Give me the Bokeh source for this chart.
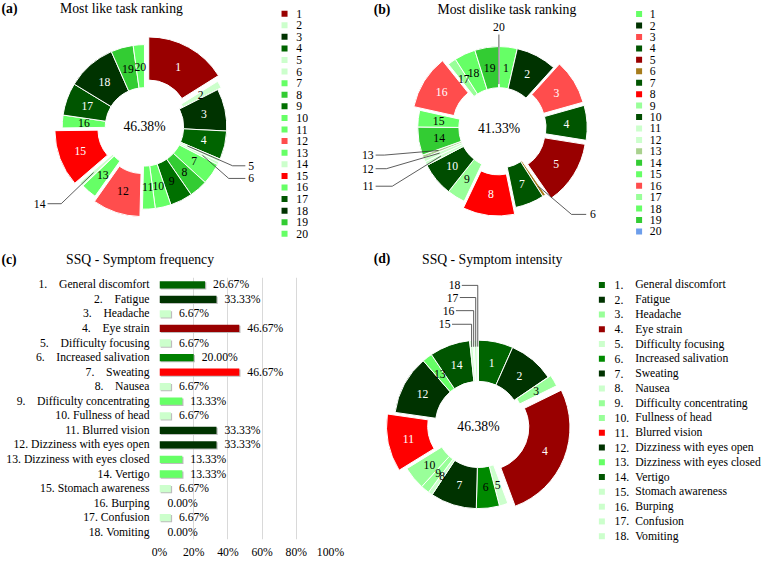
import numpy as np
from bokeh.plotting import figure
from bokeh.models import Range1d, FactorRange, FixedTicker, PrintfTickFormatter, ColumnDataSource
from bokeh.layouts import row, column
from bokeh.core.properties import value
from bokeh.transform import dodge
from bokeh.embed import file_html
from bokeh.resources import INLINE

FAMILY = "Liberation Serif, DejaVu Serif, serif"
FONT = value(FAMILY)
FS = "11.7px"
FT = "13.7px"

# ---------------- palette ----------------
DR, R, LR = "#990000", "#ff0000", "#ff4d4d"
G0, G1, G1b, G2 = "#003300", "#006400", "#005500", "#008a00"
G3, G4, G5, G6 = "#33cc33", "#66ff66", "#99ff99", "#ccffcc"

# ---------------- (a) most like ----------------
like_tasks = [str(i) for i in range(1, 21)]
like_share = [16.1, 1.4, 8.3, 5.6, 0.6, 0.6, 4.2, 3.6, 4.4, 3.1,
              2.5, 9.4, 3.1, 0.8, 11.1, 2.5, 6.4, 9.7, 4.4, 2.2]
like_colors = [DR, G6, G0, G1, G6, G6, G4, G3, "#007000", G4,
               G4, LR, G4, G6, R, G4, G1b, G0, G3, G4]
like_center = "46.38%"

# ---------------- (b) most dislike ----------------
dislike_tasks = [str(i) for i in range(1, 21)]
dislike_share = [3.6, 8.1, 8.9, 6.9, 12.8, 0.6, 5.8, 10.3, 3.6, 6.7,
                 0.8, 0.8, 0.6, 5.6, 3.3, 10.8, 1.7, 4.2, 4.7, 0.1]
dislike_colors = [G4, G0, LR, G1b, DR, "#a67c1c", G1b, R, G5, "#004d00",
                  G6, G6, "#a9d18e", G3, G4, LR, G5, G4, G3, "#6d9eeb"]
dislike_center = "41.33%"

# ---------------- (c) / (d) SSQ ----------------
symptoms = ["General discomfort", "Fatigue", "Headache", "Eye strain",
            "Difficulty focusing", "Increased salivation", "Sweating", "Nausea",
            "Difficulty concentrating", "Fullness of head", "Blurred vision",
            "Dizziness with eyes open", "Dizziness with eyes closed", "Vertigo",
            "Stomach awareness", "Burping", "Confusion", "Vomiting"]
freq_pct = [26.67, 33.33, 6.67, 46.67, 6.67, 20.00, 46.67, 6.67, 13.33,
            6.67, 33.33, 33.33, 13.33, 13.33, 6.67, 0.00, 6.67, 0.00]
freq_colors = [G1, G0, G6, DR, G6, "#008000", R, G6, G4,
               G6, G0, G0, G4, G4, G6, G6, G6, G6]
freq_ticks = [0, 20, 40, 60, 80, 100]

intensity_share = [6.67, 8.89, 2.22, 26.67, 1.67, 4.44, 8.89, 0.83, 1.67,
                   4.44, 11.11, 11.39, 1.94, 7.78, 0.56, 0.28, 0.56, 0.28]
intensity_colors = [G1, G0, G5, DR, G6, G2, G0, G6, G5,
                    G5, R, G0, G4, G1b, G6, G6, G6, G6]
intensity_center = "46.38%"

# ---------------- layout helpers ----------------
SX = 762 / 778
SY = 561 / 577
LW, RW = 357, 405
TH, CH = 274, 287
XS = LW / SX
Y1 = TH / SY


def panel(x0, x1, y0, y1, w, h):
    p = figure(width=w, height=h, x_range=Range1d(x0, x1), y_range=Range1d(0, y1 - y0),
               output_backend="svg", toolbar_location=None,
               x_axis_location=None, y_axis_location=None, min_border=0)
    p.outline_line_color = None
    p.grid.visible = False
    return p, (lambda ry: y1 - ry)


def txt(p, x, y, s, size=FS, align="left", color="black", style="normal"):
    p.text(x=[x], y=[y], text=[s], text_font=FONT, text_font_size=size,
           text_align=align, text_baseline="middle", text_color=color,
           text_font_style=style)


def donut(p, fy, cx, cy, shares, colors, r_in, r_out, explode, white, hide):
    v = np.array(shares, float)
    frac = v / v.sum() * 2 * np.pi
    end = np.cumsum(frac)
    start = end - frac
    mid = (start + end) / 2
    off = np.array([explode.get(i + 1, 0) for i in range(len(v))], float)
    X = cx + off * np.sin(mid)
    Y = fy(cy) + off * np.cos(mid)
    p.annular_wedge(x=X, y=Y, inner_radius=r_in, outer_radius=r_out,
                    start_angle=np.pi / 2 - start, end_angle=np.pi / 2 - end,
                    direction="clock", fill_color=colors, line_color="white",
                    line_width=1)
    rm = (r_in + r_out) / 2
    idx = [i for i in range(len(v)) if (i + 1) not in hide]
    p.text(x=[X[i] + rm * np.sin(mid[i]) for i in idx],
           y=[Y[i] + rm * np.cos(mid[i]) for i in idx],
           text=[str(i + 1) for i in idx],
           text_color=["white" if (i + 1) in white else "black" for i in idx],
           text_font=FONT, text_font_size=FS, text_align="center",
           text_baseline="middle")

    def point(k, r):
        i = k - 1
        return X[i] + r * np.sin(mid[i]), Y[i] + r * np.cos(mid[i])
    return point


def legend(p, fy, x_sq, x_txt, y_first, y_last, colors, labels):
    n = len(labels)
    ys = [fy(y_first + (y_last - y_first) * i / (n - 1)) for i in range(n)]
    p.scatter(x=[x_sq] * n, y=ys, marker="square", size=6, fill_color=colors,
              line_color=None)
    p.text(x=[x_txt] * n, y=ys, text=labels, text_font=FONT, text_font_size=FS,
           text_baseline="middle", text_align="left")
    return ys


# ---------------- panel (a) (+ title of c) ----------------
fa, fya = panel(0, XS, 0, Y1, LW, TH)
txt(fa, 1, fya(8), "(a)", FT, style="bold")
txt(fa, 123.5, fya(8), "Most like task ranking", FT, align="center")
pa = donut(fa, fya, 147, 130, like_share, like_colors, 40, 84,
           {1: 9, 2: 4, 12: 8, 13: 3, 14: 3, 15: 8}, {1, 3, 4, 15, 17, 18}, {5, 6, 14})
txt(fa, 147, fya(130), like_center, FT, align="center")
lines_x, lines_y = [], []
for k, r, elbow, end in [(5, 48, (237, 170), (250, 170)),
                         (6, 66, (233, 183), (250, 183)),
                         (14, 67, (62, 209), (48, 209))]:
    sx, sy = pa(k, r)
    lines_x.append([sx, elbow[0], end[0]])
    lines_y.append([sy, fya(elbow[1]), fya(end[1])])
fa.multi_line(xs=lines_x, ys=lines_y, line_color="#333333", line_width=0.8)
txt(fa, 253, fya(170), "5")
txt(fa, 253, fya(183), "6")
txt(fa, 46, fya(209), "14", align="right")
legend(fa, fya, 290, 302, 13.5, 240, like_colors, like_tasks)
txt(fa, 1, fya(266), "(c)", FT, style="bold")
txt(fa, 142.5, fya(266), "SSQ - Symptom frequency", FT, align="center")

# ---------------- panel (b) (+ title of d) ----------------
fb, fyb = panel(XS, 778, 0, Y1, RW, TH)
txt(fb, 381, fyb(9), "(b)", FT, style="bold")
txt(fb, 517, fyb(9), "Most dislike task ranking", FT, align="center")
pb = donut(fb, fyb, 509, 131, dislike_share, dislike_colors, 41, 83,
           {3: 7, 4: 7, 5: 7, 8: 7, 16: 7}, {2, 3, 4, 5, 7, 8, 10, 16},
           {6, 11, 12, 13, 20})
txt(fb, 509, fyb(132), dislike_center, FT, align="center")
lx, ly = [], []
sx, sy = pb(20, 45)
lx.append([sx, sx]); ly.append([sy, fyb(35)])
txt(fb, sx, fyb(27), "20", align="center")
for k, yy, ex in [(13, 159, 392), (12, 173, 394), (11, 191, 400)]:
    sx, sy = pb(k, 66)
    lx.append([sx, ex, 383]); ly.append([sy, fyb(yy), fyb(yy)])
    txt(fb, 381, fyb(yy), str(k), align="right")
sx, sy = pb(6, 72)
lx.append([sx, 583, 598]); ly.append([sy, fyb(220), fyb(220)])
txt(fb, 602, fyb(220), "6")
fb.multi_line(xs=lx, ys=ly, line_color="#333333", line_width=0.8)
legend(fb, fyb, 652, 663, 14, 237.5, dislike_colors, dislike_tasks)
txt(fb, 381, fyb(265), "(d)", FT, style="bold")
txt(fb, 502, fyb(266), "SSQ - Symptom intensity", FT, align="center")

# ---------------- panel (c) bars ----------------
NB = "\u00a0"
cats = [f"{i}.{NB * 4 if i < 10 else NB}{name}" for i, name in enumerate(symptoms, 1)]
src = ColumnDataSource(dict(
    cat=cats, val=freq_pct, color=freq_colors,
    lab=[f"{v:.2f}%" for v in freq_pct],
    shadow=[v + 0.7 if v > 0 else 0.7 for v in freq_pct]))
fc = figure(width=LW, height=CH, y_range=FactorRange(factors=cats[::-1]),
            x_range=Range1d(0, 100), output_backend="svg", toolbar_location=None,
            min_border_left=159, min_border_right=27, min_border_top=3,
            min_border_bottom=21)
fc.outline_line_color = None
fc.ygrid.visible = False
fc.xgrid.ticker = FixedTicker(ticks=freq_ticks)
fc.xgrid.grid_line_color = "#d9d9d9"
fc.xaxis.ticker = FixedTicker(ticks=freq_ticks)
fc.xaxis.formatter = PrintfTickFormatter(format="%d%%")
for ax in (fc.xaxis, fc.yaxis):
    ax.axis_line_color = None
    ax.major_tick_line_color = None
    ax.minor_tick_line_color = None
    ax.major_tick_out = 0
    ax.minor_tick_out = 0
    ax.major_tick_in = 0
    ax.major_label_text_font = FAMILY
    ax.major_label_text_font_size = FS
    ax.major_label_text_color = "black"
fc.xaxis.major_label_standoff = 6
fc.yaxis.major_label_standoff = 10
fc.hbar(y=dodge("cat", -0.07, range=fc.y_range), left=0.7, right="shadow", height=0.5,
        fill_color="#bdbdbd", line_color=None, source=src)
fc.hbar(y="cat", left=0, right="val", height=0.5, fill_color="color",
        line_color=None, source=src)
fc.text(x="val", y="cat", text="lab", x_offset=8, text_baseline="middle",
        text_align="left", text_font=FONT, text_font_size=FS, source=src)

# ---------------- panel (d) donut ----------------
fd, fyd = panel(XS, 778, Y1, 577, RW, CH)
pd_ = donut(fd, fyd, 488, 436, intensity_share, intensity_colors, 44, 86,
            {3: 3, 4: 8, 11: 8}, {1, 2, 4, 7, 11, 12, 14}, {15, 16, 17, 18})
txt(fd, 488, fyd(438), intensity_center, FT, align="center")
lx, ly = [], []
for k, yy, xe in [(15, 333, 461), (16, 319, 465), (17, 305.5, 469), (18, 293, 471)]:
    sx, sy = pd_(k, 80)
    lx.append([sx, sx, xe]); ly.append([sy, fyd(yy), fyd(yy)])
    txt(fd, xe - 1.5, fyd(yy), str(k), align="right")
fd.multi_line(xs=lx, ys=ly, line_color="#333333", line_width=0.8)
ys = legend(fd, fyd, 614, 627, 292.5, 551, intensity_colors,
            [f"{i}." for i in range(1, 19)])
fd.text(x=[648] * len(symptoms), y=ys, text=symptoms, text_font=FONT,
        text_font_size=FS, text_baseline="middle", text_align="left")

layout = column(row(fa, fb), row(column(fc), column(fd)))
open("out.html", "w").write(file_html(layout, INLINE))
